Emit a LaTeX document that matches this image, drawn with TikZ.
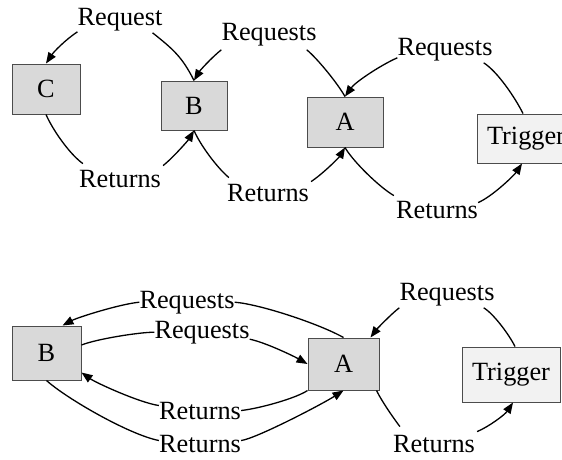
\documentclass[tikz,border=0pt]{standalone}
\usepackage{fontspec}
\setmainfont{Liberation Serif}
\usetikzlibrary{arrows.meta,calc}
\begin{document}
\begin{tikzpicture}[x=1pt,y=-1pt,
  txt/.style={font=\fontsize{26.3}{30}\selectfont},
  box/.style={txt, draw=black!70, line width=1pt, fill=gray!30, inner sep=0pt},
  tbox/.style={box, fill=gray!10},
  lbl/.style={txt, inner sep=0pt, anchor=base},
  conn/.style={line width=1.3pt},
  arr/.style={conn, -{Triangle[length=11pt,width=8.5pt]}}]
\useasboundingbox (0,0) rectangle (562,459);
\clip (0,0) rectangle (562,459);
% ---------- top diagram ----------
\node[box, minimum width=68pt, minimum height=50pt] (C) at (46,89) {C};
\node[box, minimum width=66pt, minimum height=49pt] (B) at (194,105.5) {B};
\node[box, minimum width=76pt, minimum height=50pt] (A) at (345,122) {A};
\node[tbox, minimum width=98pt, minimum height=49pt] (T) at (526,138.5) {Trigger};
\node[lbl] (q1) at (120,25) {Request};
\node[lbl] (q2) at (269,40) {Requests};
\node[lbl] (q3) at (445,55) {Requests};
\node[lbl] (r1) at (120,187) {Returns};
\node[lbl] (r2) at (268,201) {Returns};
\node[lbl] (r3) at (437,218) {Returns};
\draw[conn] ($(q1.south east)+(-10,2)$) .. controls +(20,16) and +(-12,-24) .. (B.north);
\draw[arr] ($(q1.south west)+(0,1)$) .. controls +(-12,8) and +(8,-12) .. (C.north);
\draw[arr] ($(q2.south west)+(0,4)$) .. controls +(-10,8) and +(6,-10) .. (B.north);
\draw[conn] ($(q2.south east)+(-10,4)$) .. controls +(10,8) and +(-8,-14) .. (A.north);
\draw[arr] ($(q3.south west)+(0,-3)$) .. controls +(-18,8) and +(10,-14) .. (A.north);
\draw[conn] ($(q3.south east)+(-9,2)$) .. controls +(14,9) and +(-8,-16) .. ([xshift=-3pt]T.north);
\draw[conn] (C.south) .. controls +(6,14) and +(-14,-10) .. ($(r1.north west)+(4,-6)$);
\draw[arr] ($(r1.north east)+(2,-4)$) .. controls +(10,-8) and +(-6,10) .. (B.south);
\draw[conn] (B.south) .. controls +(6,14) and +(-12,-10) .. ($(r2.north west)+(2,-6)$);
\draw[arr] ($(r2.north east)+(2,-2)$) .. controls +(12,-8) and +(-6,10) .. (A.south);
\draw[conn] (A.south) .. controls +(8,14) and +(-14,-8) .. ($(r3.north west)+(-2,-5)$);
\draw[arr] ($(r3.north east)+(0,2)$) .. controls +(14,-6) and +(-8,12) .. ([xshift=-4pt]T.south);
% ---------- bottom diagram ----------
\node[box, minimum width=69pt, minimum height=54pt] (B2) at (46.5,353) {B};
\node[box, minimum width=71pt, minimum height=52pt] (A2) at (343.5,364) {A};
\node[tbox, minimum width=98pt, minimum height=55pt] (T2) at (511,374.5) {Trigger};
\node[lbl] (p1) at (187,308) {Requests};
\node[lbl] (p2) at (202,338) {Requests};
\node[lbl] (s1) at (200,419) {Returns};
\node[lbl] (s2) at (200,452) {Returns};
\node[lbl] (p3) at (447,300) {Requests};
\node[lbl] (s3) at (434,452) {Returns};
\draw[conn] (A2.north) .. controls +(-25,-14) and +(25,2) .. (p1.east);
\draw[arr] (p1.west) .. controls +(-20,2) and +(15,-8) .. ([xshift=16pt]B2.north);
\draw[conn] ([yshift=8pt]B2.east) .. controls +(15,-6) and +(-15,0) .. (p2.west);
\draw[arr] ($(p2.east)+(0,7)$) .. controls +(15,3) and +(-14,-8) .. (A2.west);
\draw[conn] (A2.south west) .. controls +(-12,8) and +(18,-2) .. (s1.east);
\draw[arr] ($(s1.west)+(0,-5)$) .. controls +(-20,-3) and +(14,10) .. ([yshift=8pt]B2.south east);
\draw[conn] (B2.south) .. controls +(20,18) and +(-30,-6) .. ($(s2.west)+(0,-3)$);
\draw[arr] ($(s2.east)+(0,-3)$) .. controls +(15,-2) and +(-22,14) .. (A2.south);
\draw[arr] ($(p3.south west)+(0,2)$) .. controls +(-8,6) and +(6,-8) .. ([xshift=-9pt]A2.north east);
\draw[conn] ($(p3.south east)+(-11,2)$) .. controls +(10,6) and +(-6,-12) .. ([xshift=4pt]T2.north);
\draw[conn] ([xshift=-3pt]A2.south east) .. controls +(6,12) and +(-6,-8) .. ($(s3.north west)+(7,-8)$);
\draw[arr] ($(s3.north east)+(2,-3)$) .. controls +(12,-5) and +(-8,12) .. ([xshift=2pt]T2.south);
\end{tikzpicture}
\end{document}
